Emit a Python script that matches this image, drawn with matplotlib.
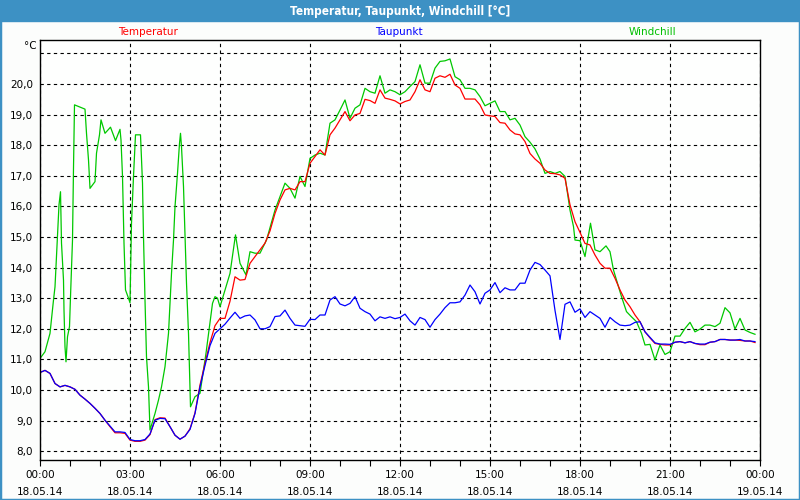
import numpy as np
import matplotlib
matplotlib.use('Agg')
import matplotlib.pyplot as plt

# Zeitachse in Minuten (10-Minuten-Werte)
minutes = np.arange(0, 1440, 10)

taupunkt = [10.57, 10.64, 10.54, 10.21, 10.10, 10.15, 10.10, 10.02, 9.83, 9.70,
            9.56, 9.40, 9.23, 9.01, 8.82, 8.63, 8.63, 8.61, 8.38, 8.34,
            8.34, 8.38, 8.56, 9.01, 9.07, 9.06, 8.80, 8.52, 8.39, 8.49,
            8.71, 9.23, 10.10, 10.80, 11.45, 11.85, 12.00, 12.15, 12.35, 12.54,
            12.34, 12.42, 12.45, 12.29, 12.00, 12.00, 12.07, 12.40, 12.42, 12.61,
            12.34, 12.12, 12.10, 12.08, 12.31, 12.30, 12.45, 12.45, 12.94, 13.05,
            12.81, 12.75, 12.83, 13.05, 12.67, 12.56, 12.48, 12.26, 12.39, 12.34,
            12.39, 12.33, 12.37, 12.48, 12.26, 12.12, 12.37, 12.30, 12.05, 12.30,
            12.48, 12.69, 12.85, 12.85, 12.88, 13.10, 13.43, 13.21, 12.81, 13.16,
            13.27, 13.51, 13.18, 13.34, 13.27, 13.27, 13.49, 13.49, 13.92, 14.17,
            14.10, 13.92, 13.73, 12.60, 11.65, 12.80, 12.88, 12.54, 12.65, 12.37,
            12.56, 12.45, 12.34, 12.05, 12.37, 12.23, 12.12, 12.10, 12.12, 12.21,
            12.23, 11.90, 11.72, 11.54, 11.50, 11.50, 11.49, 11.56, 11.58, 11.54,
            11.58, 11.52, 11.50, 11.50, 11.56, 11.58, 11.65, 11.65, 11.63, 11.63,
            11.65, 11.60, 11.60, 11.58]

temperatur = [10.57, 10.64, 10.54, 10.21, 10.10, 10.15, 10.10, 10.02, 9.83, 9.70,
              9.56, 9.40, 9.23, 9.01, 8.80, 8.60, 8.60, 8.58, 8.36, 8.32,
              8.32, 8.36, 8.54, 9.03, 9.09, 9.08, 8.80, 8.52, 8.39, 8.49,
              8.73, 9.25, 10.16, 10.87, 11.55, 12.10, 12.34, 12.34, 12.90, 13.70,
              13.59, 13.61, 14.14, 14.36, 14.58, 14.80, 15.20, 15.77, 16.21, 16.54,
              16.59, 16.54, 16.81, 16.81, 17.41, 17.63, 17.85, 17.68, 18.34, 18.56,
              18.83, 19.10, 18.80, 18.99, 19.04, 19.50, 19.46, 19.37, 19.81, 19.54,
              19.50, 19.45, 19.35, 19.43, 19.48, 19.75, 20.14, 19.81, 19.75, 20.19,
              20.27, 20.22, 20.32, 19.97, 19.86, 19.51, 19.51, 19.51, 19.32, 18.99,
              18.96, 18.94, 18.74, 18.72, 18.50, 18.37, 18.34, 18.12, 17.73, 17.55,
              17.41, 17.19, 17.08, 17.07, 17.03, 16.92, 16.05, 15.50, 15.15, 14.79,
              14.74, 14.41, 14.14, 13.98, 13.98, 13.65, 13.27, 12.94, 12.72, 12.45,
              12.23, 11.90, 11.70, 11.52, 11.49, 11.47, 11.47, 11.56, 11.58, 11.54,
              11.58, 11.52, 11.48, 11.48, 11.56, 11.58, 11.65, 11.65, 11.63, 11.63,
              11.62, 11.60, 11.60, 11.55]

# Windchill hat in der Nacht schnelle Spruenge, daher eigene Zeitpunkte
wc_minutes = [0, 10, 20, 27, 30, 33, 38, 41, 43, 47, 48, 50, 52, 55, 59, 61, 65, 67, 69, 72,
              90, 93, 97, 100, 110, 113, 119, 122, 130, 141, 151, 160, 162, 165, 168, 171,
              177, 180, 181, 183, 187, 191, 201, 205, 207, 210, 213, 217, 220, 223, 230,
              237, 243, 250, 257, 263, 267, 270, 275, 279, 281, 283, 287, 290, 293, 297,
              300, 301, 310, 320, 325, 332, 339, 345, 350, 355, 360, 370, 380, 391, 400,
              412, 420, 430, 440, 453, 460,
              470, 480, 490, 500, 510, 520, 530, 540, 550, 560, 570, 580, 590, 600, 610,
              620, 630, 640, 650, 660, 670, 680, 690, 700, 710, 720, 730, 740, 750, 760,
              770, 780, 790, 800, 810, 820, 830, 840, 850, 860, 870, 880, 890, 900, 910,
              920, 930, 940, 950, 960, 970, 980, 990, 1000, 1010, 1020, 1030, 1040, 1050,
              1060, 1067, 1070, 1080, 1090, 1101, 1110, 1120, 1132, 1140, 1147, 1155, 1163,
              1173, 1183, 1193, 1203, 1210, 1220, 1230, 1240, 1250, 1260, 1270, 1280, 1290,
              1300, 1310, 1320, 1330, 1340, 1350, 1360, 1370, 1380, 1390, 1400, 1410, 1420,
              1430]
windchill = [11.03, 11.25, 11.85, 12.94, 13.37, 14.36, 16.05, 16.48, 14.80, 13.59, 12.61,
             11.41, 10.92, 11.74, 12.07, 13.05, 14.90, 17.25, 19.32, 19.30,
             19.18, 18.39, 17.52, 16.59, 16.81, 17.74, 18.34, 18.83, 18.39, 18.59, 18.15,
             18.52, 18.17, 16.98, 14.80, 13.27,
             13.00, 12.85, 13.70, 15.45, 16.98, 18.34, 18.34, 16.76, 15.01, 12.94, 11.08,
             10.10, 8.69, 8.85, 9.23,
             9.67, 10.10, 10.76, 11.85, 13.81, 14.90, 15.99, 17.08, 18.06, 18.39, 17.95,
             16.65, 15.12, 13.49, 11.85,
             10.10, 9.45, 9.78, 9.89, 10.43, 11.20, 12.07, 12.83, 13.05, 13.00, 12.72,
             13.27, 13.81, 15.07, 14.14,
             13.76, 14.52, 14.47, 14.47, 14.90, 15.30,
             15.88, 16.32, 16.76, 16.59, 16.27, 16.98, 16.65, 17.57, 17.68, 17.74, 17.68,
             18.72, 18.83, 19.15, 19.48,
             18.88, 19.21, 19.32, 19.86, 19.75, 19.70, 20.27, 19.70, 19.81, 19.75, 19.65,
             19.75, 19.92, 20.08, 20.63,
             20.03, 20.03, 20.52, 20.74, 20.76, 20.82, 20.24, 20.14, 19.86, 19.86, 19.81,
             19.59, 19.29, 19.37, 19.45,
             19.10, 19.10, 18.83, 18.88, 18.66, 18.28, 18.10, 17.88, 17.55, 17.08, 17.14,
             17.08, 17.14, 16.98,
             15.88, 15.34, 14.90, 14.88, 14.36, 15.45, 14.58, 14.52, 14.71, 14.52, 13.92,
             13.49, 13.05,
             12.56, 12.39, 12.23, 11.85, 11.47, 11.49, 10.98, 11.47, 11.16, 11.25, 11.76,
             11.76, 12.01,
             12.21, 11.90, 11.99, 12.12, 12.12, 12.07, 12.18, 12.69, 12.52, 11.99, 12.34,
             11.96, 11.88,
             11.82]

xtick_labels = ['00:00\n18.05.14', '03:00\n18.05.14', '06:00\n18.05.14', '09:00\n18.05.14',
                '12:00\n18.05.14', '15:00\n18.05.14', '18:00\n18.05.14', '21:00\n18.05.14',
                '00:00\n19.05.14']
yticks = [8, 9, 10, 11, 12, 13, 14, 15, 16, 17, 18, 19, 20, 21]
ytick_labels = ['8,0', '9,0', '10,0', '11,0', '12,0', '13,0', '14,0', '15,0',
                '16,0', '17,0', '18,0', '19,0', '20,0', '']

frame_blue = '#3d91c4'

fig = plt.figure(figsize=(8, 5), dpi=100, facecolor='#fcfdfc')
ax = fig.add_axes([0.05, 0.08, 0.90, 0.84])

hours = np.array(minutes) / 60.0
ax.plot(np.array(wc_minutes) / 60.0, windchill, color='#00c800', lw=0.9)
ax.plot(hours, temperatur, color='#ff0000', lw=0.9)
ax.plot(hours, taupunkt, color='#0000ff', lw=0.9)

ax.set_xlim(0, 24)
ax.set_ylim(7.71, 21.44)
ax.set_xticks(np.arange(0, 25, 3))
ax.set_xticklabels(xtick_labels, fontsize=7.5, linespacing=1.9)
ax.set_xticks(np.arange(0, 25, 1), minor=True)
ax.set_yticks(yticks)
ax.set_yticklabels(ytick_labels, fontsize=7.5)
ax.tick_params(axis='x', which='both', direction='out', length=4, width=0.8, pad=3)
ax.tick_params(axis='y', length=0, pad=5)
ax.grid(True, which='major', color='black', linestyle=(0, (3, 3)), linewidth=0.8)
for s in ax.spines.values():
    s.set_linewidth(1.0)
ax.set_facecolor('#fefffe')

# Titelleiste und Rahmen
fig.patches.append(plt.Rectangle((0, 1 - 21 / 500), 1, 21 / 500, transform=fig.transFigure,
                                 color=frame_blue, zorder=0))
fig.patches.append(plt.Rectangle((0, 0), 1, 1, transform=fig.transFigure, fill=False,
                                 edgecolor=frame_blue, linewidth=2.5, zorder=0))
fig.text(0.5, 1 - 11 / 500, 'Temperatur, Taupunkt, Windchill [°C]', color='white',
         fontsize=8.5, fontweight='bold', fontstretch='condensed', ha='center', va='center')

fig.text(148 / 800, 1 - 32 / 500, 'Temperatur', color='#ff0000', fontsize=7.5, ha='center', va='center')
fig.text(399 / 800, 1 - 32 / 500, 'Taupunkt', color='#0000ff', fontsize=7.5, ha='center', va='center')
fig.text(652 / 800, 1 - 32 / 500, 'Windchill', color='#00c000', fontsize=7.5, ha='center', va='center')
fig.text(37 / 800, 1 - 46 / 500, '°C', fontsize=7.5, ha='right', va='center')

fig.savefig('out.png', dpi=100, facecolor=fig.get_facecolor())
